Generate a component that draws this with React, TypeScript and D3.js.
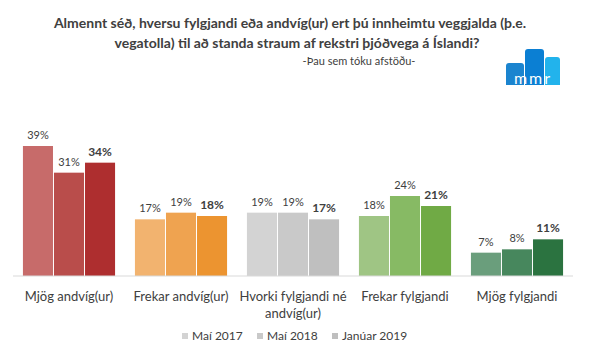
import * as d3 from "d3";

const categories = [
  ["Mjög andvíg(ur)"],
  ["Frekar andvíg(ur)"],
  ["Hvorki fylgjandi né", "andvíg(ur)"],
  ["Frekar fylgjandi"],
  ["Mjög fylgjandi"],
];
const seriesNames = ["Maí 2017", "Maí 2018", "Janúar 2019"];
const may2017 = [39, 17, 19, 18, 7];
const may2018 = [31, 19, 19, 24, 8];
const jan2019 = [34, 18, 17, 21, 11];
const seriesValues = [may2017, may2018, jan2019];

// colour per category, one shade per survey
const palette = [
  ["#c76b6a", "#b94d4b", "#ae2e2f"],
  ["#f2b36f", "#efa350", "#ec9430"],
  ["#d3d3d3", "#c9c9c9", "#bfbfbf"],
  ["#9fc584", "#87ba64", "#70aa45"],
  ["#6a9e7c", "#47875d", "#2b7340"],
];
const legendColors = ["#d3d3d3", "#c9c9c9", "#bfbfbf"];

const width = 590;
const height = 360;
const font = "Lato, 'Open Sans', sans-serif";
const textColor = "#404040";

export default function App() {
  const keys = categories.map((_, i) => String(i));
  const x = d3.scaleBand<string>().domain(keys).range([13, 573]);
  const x1 = d3
    .scaleBand<number>()
    .domain([0, 1, 2])
    .range([0, x.bandwidth()])
    .paddingInner(0.032)
    .paddingOuter(0.32);
  const y = d3.scaleLinear().domain([0, 45]).range([276, 126]);

  return (
    <svg
      width={width}
      height={height}
      style={{ position: "absolute", left: 0, top: 0, background: "#fff" }}
      fontFamily={font}
    >
      <g textAnchor="middle" fill={textColor} fontWeight="bold" fontSize={14}>
        <text x={290} y={28}>
          Almennt séð, hversu fylgjandi eða andvíg(ur) ert þú innheimtu veggjalda (þ.e.
        </text>
        <text x={297} y={48}>
          vegatolla) til að standa straum af rekstri þjóðvega á Íslandi?
        </text>
      </g>
      <text x={359} y={65} textAnchor="middle" fontSize={11} fill={textColor}>
        -Þau sem tóku afstöðu-
      </text>

      {/* mmr logo */}
      <g>
        <path d="M506,85 V66 a3,3 0 0 1 3,-3 H521 a3,3 0 0 1 3,3 V85 Z" fill="#1b84cf" />
        <path d="M525,85 V52 a3,3 0 0 1 3,-3 H541 a3,3 0 0 1 3,3 V85 Z" fill="#0b7fd3" />
        <path d="M545,85 V60 a3,3 0 0 1 3,-3 H557 a3,3 0 0 1 3,3 V85 Z" fill="#22b3ec" />
        <text x={533} y={84} textAnchor="middle" fill="#fff" fontSize={16} letterSpacing={2}>
          mmr
        </text>
      </g>

      {categories.map((_, ci) => (
        <g key={ci} transform={`translate(${x(String(ci))},0)`}>
          {seriesValues.map((vals, si) => {
            const v = vals[ci];
            const bx = x1(si) ?? 0;
            return (
              <g key={si}>
                <rect
                  x={bx}
                  y={y(v)}
                  width={x1.bandwidth()}
                  height={y(0) - y(v)}
                  fill={palette[ci][si]}
                />
                <text
                  x={bx + x1.bandwidth() / 2}
                  y={y(v) - 7}
                  textAnchor="middle"
                  fontSize={si === 2 ? 12 : 11}
                  fontWeight={si === 2 ? "bold" : "normal"}
                  fill={textColor}
                >
                  {v}%
                </text>
              </g>
            );
          })}
        </g>
      ))}

      <line x1={13} x2={573} y1={y(0)} y2={y(0)} stroke="#d9d9d9" strokeWidth={1} />

      {categories.map((lines, ci) => (
        <text
          key={ci}
          x={(x(String(ci)) ?? 0) + x.bandwidth() / 2}
          y={301}
          textAnchor="middle"
          fontSize={13}
          fill={textColor}
        >
          {lines.map((l, li) => (
            <tspan key={li} x={(x(String(ci)) ?? 0) + x.bandwidth() / 2} dy={li === 0 ? 0 : 17}>
              {l}
            </tspan>
          ))}
        </text>
      ))}

      {seriesNames.map((name, si) => {
        const lx = [182, 257, 332][si];
        return (
          <g key={name}>
            <rect x={lx} y={333} width={6} height={6} fill={legendColors[si]} />
            <text x={lx + 10} y={340} fontSize={12} fill={textColor}>
              {name}
            </text>
          </g>
        );
      })}
    </svg>
  );
}
